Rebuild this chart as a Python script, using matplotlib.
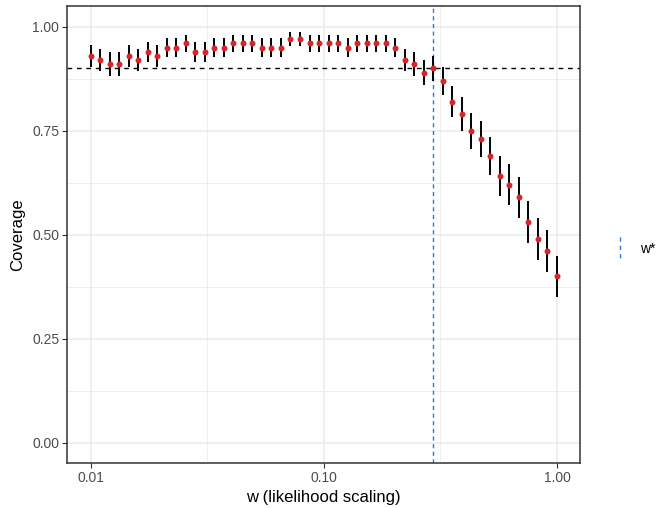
import matplotlib.pyplot as plt
from matplotlib.lines import Line2D

plt.rcParams['font.family'] = ['Liberation Sans', 'DejaVu Sans']

# likelihood scaling grid (log spaced, 50 values)
w = [0.01, 0.010985, 0.012068, 0.013257, 0.014563, 0.015999, 0.017575, 0.019307,
     0.021210, 0.023300, 0.025595, 0.028118, 0.030888, 0.033932, 0.037276, 0.040949,
     0.044984, 0.049417, 0.054287, 0.059636, 0.065513, 0.071969, 0.079060, 0.086851,
     0.095410, 0.10481, 0.11514, 0.12649, 0.13895, 0.15264, 0.16768, 0.18421,
     0.20236, 0.22230, 0.24421, 0.26827, 0.29471, 0.32375, 0.35565, 0.39069,
     0.42919, 0.47149, 0.51795, 0.56899, 0.62506, 0.68665, 0.75431, 0.82864,
     0.91030, 1.0]

coverage = [0.93, 0.92, 0.91, 0.91, 0.93, 0.92, 0.94, 0.93, 0.95, 0.95,
            0.96, 0.94, 0.94, 0.95, 0.95, 0.96, 0.96, 0.96, 0.95, 0.95,
            0.95, 0.97, 0.97, 0.96, 0.96, 0.96, 0.96, 0.95, 0.96, 0.96,
            0.96, 0.96, 0.95, 0.92, 0.91, 0.89, 0.90, 0.87, 0.82, 0.79,
            0.75, 0.73, 0.69, 0.64, 0.62, 0.59, 0.53, 0.49, 0.46, 0.40]

# half length of the error bars
err = [0.026, 0.027, 0.029, 0.029, 0.026, 0.027, 0.024, 0.026, 0.022, 0.022,
       0.020, 0.024, 0.024, 0.022, 0.022, 0.020, 0.020, 0.020, 0.022, 0.022,
       0.022, 0.017, 0.017, 0.020, 0.020, 0.020, 0.020, 0.022, 0.020, 0.020,
       0.020, 0.020, 0.022, 0.027, 0.029, 0.031, 0.030, 0.034, 0.038, 0.041,
       0.043, 0.044, 0.046, 0.048, 0.049, 0.049, 0.050, 0.050, 0.050, 0.049]

nominal = 0.90
w_star = 0.29471

xticks = [0.01, 0.1, 1.0]
xticklabels = ['0.01', '0.10', '1.00']
yticks = [0.0, 0.25, 0.5, 0.75, 1.0]
yticklabels = ['0.00', '0.25', '0.50', '0.75', '1.00']

fig = plt.figure(figsize=(6.57, 5.08), dpi=100)
ax = fig.add_axes([0.1024, 0.0880, 0.7809, 0.9002])

ax.set_xscale('log')
ax.set_xlim(10 ** -2.1, 10 ** 0.1)
ax.set_ylim(-0.05, 1.05)

# grid like theme_bw
for v in [10 ** -1.5, 10 ** -0.5]:
    ax.axvline(v, color='#EBEBEB', lw=0.6, zorder=0)
for v in [0.125, 0.375, 0.625, 0.875]:
    ax.axhline(v, color='#EBEBEB', lw=0.6, zorder=0)
for v in xticks:
    ax.axvline(v, color='#EBEBEB', lw=1.1, zorder=0)
for v in yticks:
    ax.axhline(v, color='#EBEBEB', lw=1.1, zorder=0)

ax.axhline(nominal, color='black', lw=1.0, dashes=(3.4, 3.4), zorder=1)
ax.axvline(w_star, color='#2A7AD5', lw=1.0, dashes=(3, 2.5), zorder=1)

ax.errorbar(w, coverage, yerr=err, fmt='none', ecolor='black', elinewidth=1.4,
            capsize=0, zorder=2)
ax.plot(w, coverage, 'o', color='#D7262B', markersize=4.3, markeredgewidth=0, zorder=3)

ax.set_xticks(xticks)
ax.set_xticklabels(xticklabels)
ax.xaxis.set_minor_locator(plt.NullLocator())
ax.set_yticks(yticks)
ax.set_yticklabels(yticklabels)

ax.tick_params(axis='both', length=3.6, width=0.8, color='#333333', pad=2.2,
               labelsize=10, labelcolor='#4D4D4D')
for s in ax.spines.values():
    s.set_color('#333333')
    s.set_linewidth(1.1)

ax.set_xlabel('w (likelihood scaling)', fontsize=12, labelpad=3)
ax.set_ylabel('Coverage', fontsize=12, labelpad=5)

# legend for the vertical line
fig.add_artist(Line2D([620 / 657, 620 / 657], [1 - 237 / 508, 1 - 260 / 508],
                      color='#2A7AD5', lw=1.0, dashes=(3, 3)))
fig.text(640 / 657, 1 - 249 / 508, 'w*', fontsize=10, va='center', ha='left')

fig.savefig('out.png', dpi=100)
